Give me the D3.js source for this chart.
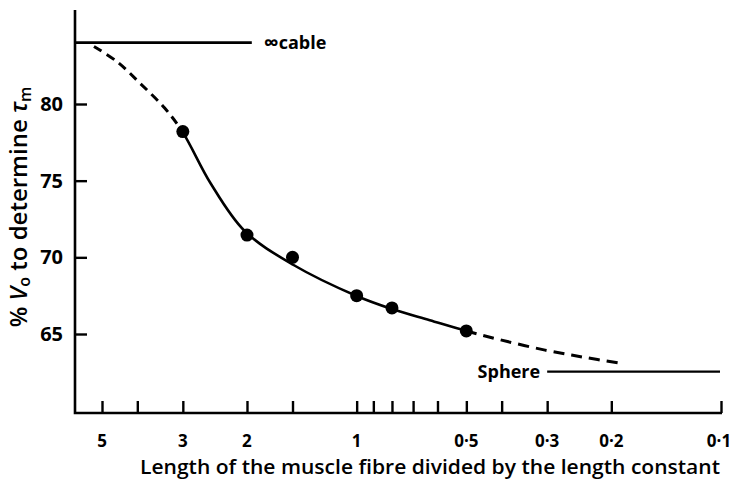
<!DOCTYPE html>
<html><head><meta charset="utf-8">
<script src="https://d3js.org/d3.v7.min.js"></script>
<style>body{margin:0;background:#fff;} svg{display:block;} text{font-family:"Open Sans",Lato,sans-serif;fill:#000;}</style>
</head><body>
<script>
// Data
const xTickValues = [5,4,3,2,1.5,1,0.9,0.8,0.7,0.6,0.5,0.4,0.3,0.2,0.1];
const xTickLabels = {5:"5",3:"3",2:"2",1:"1",0.5:"0·5",0.3:"0·3",0.2:"0·2",0.1:"0·1"};
const yTickValues = [65,70,75,80];
const pointsX = [3,2,1.5,1,0.8,0.5];
const pointsY = [78.2,71.45,70.0,67.5,66.7,65.2];
// fitted curve (one smooth curve; dashed outside the measured range)
const curveX = [5.26,4.54,3.93,3.37,3.0,2.52,2.03,1.49,1.0,0.8,0.63,0.5,0.4,0.304,0.24,0.19];
const curveY = [83.75,82.75,81.35,79.75,78.15,74.85,71.72,69.5,67.48,66.63,65.9,65.2,64.6,63.95,63.5,63.1];
const solidFrom = 3.0, solidTo = 0.5;
const cableY = 84.0, cableXEnd = 1.94;
const sphereY = 62.55, sphereXStart = 0.30;

const W=732,H=481;
const svg=d3.select("body").append("svg").attr("width",W).attr("height",H);
const x=d3.scaleLog().domain([5,0.1]).range([102,721]);
const y=d3.scaleLinear().domain([65,80]).range([334,104]);
const axX=75, axY=413, axTop=10, axRight=722;

// axes lines
svg.append("path").attr("d",`M${axX},${axTop}V${axY}H${axRight}`).attr("fill","none").attr("stroke","#000").attr("stroke-width",2.6);

// x ticks (drawn inward)
const xAxis=d3.axisTop(x).tickValues(xTickValues).tickSize(12).tickFormat("");
const gx=svg.append("g").attr("transform",`translate(0,${axY})`).call(xAxis);
gx.select(".domain").remove();
gx.selectAll(".tick line").attr("stroke","#000").attr("stroke-width",2.4);
svg.selectAll(".xl").data(xTickValues.filter(v=>xTickLabels[v])).enter().append("text")
  .attr("x",d=>x(d)+(d===0.1?-2:0)).attr("y",447).attr("text-anchor","middle")
  .attr("font-size",17).attr("font-weight",700).text(d=>xTickLabels[d]);

// y ticks
const yAxis=d3.axisRight(y).tickValues(yTickValues).tickSize(12).tickFormat("");
const gy=svg.append("g").attr("transform",`translate(${axX},0)`).call(yAxis);
gy.select(".domain").remove();
gy.selectAll(".tick line").attr("stroke","#000").attr("stroke-width",2.4);
svg.selectAll(".yl").data(yTickValues).enter().append("text")
  .attr("x",63).attr("y",d=>y(d)+7).attr("text-anchor","end")
  .attr("font-size",20).attr("font-weight",700).text(d=>d);

// reference lines
svg.append("line").attr("x1",axX).attr("x2",x(cableXEnd)).attr("y1",y(cableY)).attr("y2",y(cableY))
  .attr("stroke","#000").attr("stroke-width",2.6);
const tc=svg.append("text").attr("x",x(cableXEnd)+12).attr("y",y(cableY)+6).attr("font-size",18).attr("font-weight",700);
tc.append("tspan").attr("font-size",21).attr("dy",1).text("∞");
tc.append("tspan").attr("dy",-1).text("cable");
svg.append("line").attr("x1",x(sphereXStart)).attr("x2",axRight-2).attr("y1",y(sphereY)).attr("y2",y(sphereY))
  .attr("stroke","#000").attr("stroke-width",2.2);
svg.append("text").attr("x",x(sphereXStart)-7).attr("y",y(sphereY)+6).attr("text-anchor","end")
  .attr("font-size",18).attr("font-weight",700).text("Sphere");

// curve: one smooth path, clipped into dashed / solid / dashed parts
const zip=(a,b)=>a.map((v,i)=>[v,b[i]]);
const line=d3.line().x(d=>x(d[0])).y(d=>y(d[1])).curve(d3.curveCatmullRom.alpha(0.5));
const dPath=line(zip(curveX,curveY));
const defs=svg.append("defs");
const clips=[[0,x(solidFrom)],[x(solidFrom),x(solidTo)],[x(solidTo),W]];
clips.forEach((c,i)=>{
  defs.append("clipPath").attr("id","c"+i).append("rect").attr("x",c[0]).attr("y",0).attr("width",c[1]-c[0]).attr("height",H);
});
svg.append("path").attr("d",dPath).attr("clip-path","url(#c0)").attr("fill","none").attr("stroke","#000")
  .attr("stroke-width",3).attr("stroke-dasharray","9,6");
svg.append("path").attr("d",dPath).attr("clip-path","url(#c1)").attr("fill","none").attr("stroke","#000")
  .attr("stroke-width",2.6);
svg.append("path").attr("d",dPath).attr("clip-path","url(#c2)").attr("fill","none").attr("stroke","#000")
  .attr("stroke-width",3).attr("stroke-dasharray","11,7");

// points
svg.selectAll(".pt").data(zip(pointsX,pointsY)).enter().append("circle")
  .attr("cx",d=>x(d[0])).attr("cy",d=>y(d[1])).attr("r",6.5).attr("fill","#000");

// axis titles
svg.append("text").attr("x",430).attr("y",474).attr("text-anchor","middle").attr("font-size",20).attr("font-weight",600)
  .attr("textLength",580).attr("lengthAdjust","spacingAndGlyphs")
  .text("Length of the muscle fibre divided by the length constant");
const yt=svg.append("text").attr("transform","translate(27,207) rotate(-90)").attr("text-anchor","middle")
  .attr("font-size",24).attr("font-weight",600);
yt.append("tspan").text("% ");
yt.append("tspan").attr("font-style","italic").text("V");
yt.append("tspan").attr("font-size",16).attr("dy",3).text("o");
yt.append("tspan").attr("dy",-3).text(" to determine ");
yt.append("tspan").attr("font-style","italic").text("τ");
yt.append("tspan").attr("font-size",16).attr("dy",4).text("m");
</script>
</body></html>
